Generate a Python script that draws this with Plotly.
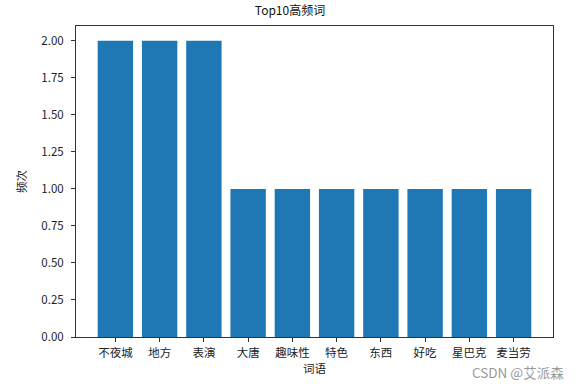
import plotly.graph_objects as go

words = ["不夜城", "地方", "表演", "大唐", "趣味性", "特色", "东西", "好吃", "星巴克", "麦当劳"]
counts = [2, 2, 2, 1, 1, 1, 1, 1, 1, 1]
y_ticks = [0, 0.25, 0.5, 0.75, 1.0, 1.25, 1.5, 1.75, 2.0]
y_tick_labels = ["0.00", "0.25", "0.50", "0.75", "1.00", "1.25", "1.50", "1.75", "2.00"]

font_family = "Noto Sans CJK SC, DejaVu Sans, sans-serif"

fig = go.Figure(go.Bar(x=list(range(len(words))), y=counts, marker_color="#1f77b4",
                       marker_line_width=0, width=0.8))

fig.update_layout(
    width=580, height=388,
    margin=dict(l=76, r=27, t=26, b=51),
    paper_bgcolor="white", plot_bgcolor="white",
    font=dict(family=font_family, size=11.5, color="#222"),
    showlegend=False,
    title=dict(text="Top10高频词", x=0.5, xanchor="center", y=1 - 11 / 388, yanchor="middle",
               font=dict(size=12, color="#111")),
    xaxis=dict(range=[-0.89, 9.89], tickmode="array", tickvals=list(range(len(words))),
               ticktext=words, ticks="outside", ticklen=4, tickcolor="#333",
               showline=True, linecolor="#333", linewidth=1, mirror=True,
               showgrid=False, zeroline=False, ticklabelstandoff=1,
               title=dict(text="词语", standoff=6, font=dict(size=11.5))),
    yaxis=dict(range=[0, 2.1], tickmode="array", tickvals=y_ticks, ticktext=y_tick_labels,
               ticks="outside", ticklen=4, tickcolor="#333",
               showline=True, linecolor="#333", linewidth=1, mirror=True,
               showgrid=False, zeroline=False, ticklabelstandoff=5,
               title=dict(text="频次", standoff=12, font=dict(size=11.5))),
    annotations=[dict(text="CSDN @艾派森", xref="paper", yref="paper",
                      x=(566 - 76) / 477, y=-(372 - 337) / 311, xanchor="right", yanchor="middle",
                      showarrow=False, font=dict(size=13.5, color="#999"))],
)

fig.write_html("out.html")
